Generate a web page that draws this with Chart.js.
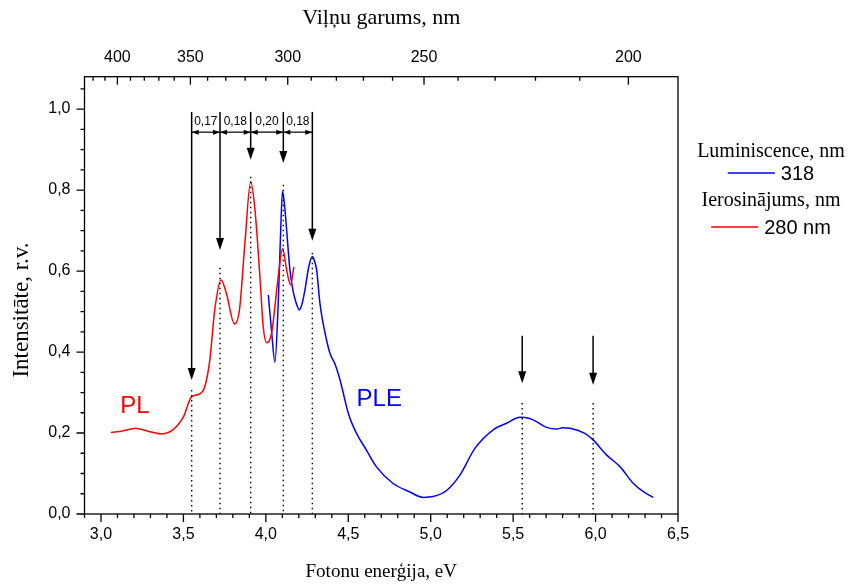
<!DOCTYPE html>
<html>
<head>
<meta charset="utf-8">
<script src="https://cdn.jsdelivr.net/npm/chart.js@4.4.0/dist/chart.umd.min.js"></script>
<style>
  html, body { margin: 0; padding: 0; background: #fff; }
</style>
</head>
<body>
<canvas id="spectrum" width="852" height="586"></canvas>
<script>
// PL spektrs (ierosinājums 280 nm)
const plEnergy = [3.06, 3.13, 3.21, 3.28, 3.36, 3.43, 3.50, 3.55, 3.59, 3.63, 3.66, 3.69, 3.728, 3.76, 3.81, 3.84, 3.873, 3.908, 3.934, 3.964, 3.984, 4.005, 4.035, 4.075, 4.102, 4.126, 4.150, 4.17];
const plIntensity = [0.201, 0.205, 0.212, 0.205, 0.198, 0.206, 0.240, 0.290, 0.295, 0.315, 0.380, 0.504, 0.578, 0.546, 0.469, 0.504, 0.669, 0.821, 0.751, 0.586, 0.463, 0.423, 0.447, 0.586, 0.656, 0.603, 0.566, 0.610];

// PLE spektrs (luminiscence 318 nm)
const pleEnergy = [4.015, 4.035, 4.055, 4.075, 4.09, 4.101, 4.114, 4.126, 4.146, 4.166, 4.185, 4.203, 4.22, 4.237, 4.26, 4.282, 4.295, 4.308, 4.328, 4.359, 4.389, 4.42, 4.44, 4.46, 4.50, 4.55, 4.61, 4.67, 4.77, 4.87, 4.955, 5.015, 5.096, 5.177, 5.268, 5.379, 5.46, 5.541, 5.60, 5.642, 5.703, 5.764, 5.80, 5.845, 5.935, 5.985, 6.066, 6.148, 6.228, 6.29, 6.35];
const pleIntensity = [0.541, 0.450, 0.375, 0.520, 0.700, 0.797, 0.760, 0.702, 0.603, 0.549, 0.520, 0.504, 0.520, 0.553, 0.610, 0.636, 0.625, 0.603, 0.521, 0.447, 0.397, 0.370, 0.345, 0.315, 0.249, 0.199, 0.158, 0.117, 0.076, 0.055, 0.041, 0.043, 0.058, 0.096, 0.162, 0.208, 0.224, 0.239, 0.236, 0.228, 0.214, 0.210, 0.213, 0.212, 0.199, 0.183, 0.146, 0.117, 0.076, 0.055, 0.041];

// asis
const energyTicks = [3.0, 3.5, 4.0, 4.5, 5.0, 5.5, 6.0, 6.5];
const intensityTicks = [0, 0.2, 0.4, 0.6, 0.8, 1.0];
const wavelengthTicks = [400, 350, 300, 250, 200];
const HC = 1239.84; // eV*nm

// maksimumi, bultas
const peakEnergy = [3.55, 3.722, 3.908, 4.106, 4.282, 5.555, 5.985];
const peakLevel = [0.306, 0.608, 0.833, 0.813, 0.645, 0.274, 0.274];
const arrowFrom = [0.993, 0.993, 0.993, 0.993, 0.993, 0.44, 0.44];
const arrowTo = [0.331, 0.652, 0.875, 0.867, 0.675, 0.323, 0.319];
const gapLabels = ["0,17", "0,18", "0,20", "0,18"];
const gapLevel = 0.943;
const gapLabelLevel = 0.969;

// uzraksti
const curveNames = ["PL", "PLE"];
const curveNameX = [3.206, 4.688];
const curveNameY = [0.265, 0.282];
const legendTitles = ["Luminiscence, nm", "Ierosinājums, nm"];
const yTitle = "Intensitāte, r.v.";

const SANS = 'Arial, "Liberation Sans", sans-serif';
const SERIF = '"Times New Roman", "Liberation Serif", serif';

function arrowHead(ctx, x, y, dx, dy, len, half) {
    // smaile punktā (x,y), virzienā (dx,dy)
    ctx.beginPath();
    ctx.moveTo(x, y);
    ctx.lineTo(x - dx * len - dy * half, y - dy * len - dx * half);
    ctx.lineTo(x - dx * len + dy * half, y - dy * len + dx * half);
    ctx.closePath();
    ctx.fill();
}

const decor = {
    id: 'decor',
    afterDraw(chart) {
        const ctx = chart.ctx;
        const xs = chart.scales.x, xt = chart.scales.xTop, ys = chart.scales.y;
        const a = chart.chartArea;
        ctx.save();
        ctx.strokeStyle = '#000';
        ctx.fillStyle = '#000';
        ctx.lineWidth = 1.3;

        // rāmis
        ctx.strokeRect(a.left, a.top, a.right - a.left, a.bottom - a.top);

        // apakšējās ass iedaļas (uz āru)
        ctx.beginPath();
        for (let i = 29; i <= 65; i++) {
            const px = xs.getPixelForValue(i / 10);
            ctx.moveTo(px, a.bottom);
            ctx.lineTo(px, a.bottom + (i % 5 === 0 ? 8 : 4));
        }
        // kreisās ass iedaļas (uz āru)
        for (let i = 0; i <= 21; i++) {
            const py = ys.getPixelForValue(i / 20);
            ctx.moveTo(a.left, py);
            ctx.lineTo(a.left - (i % 4 === 0 ? 8 : 4), py);
        }
        // augšējās ass iedaļas (uz iekšu)
        for (let nm = 200; nm <= 420; nm += 10) {
            const px = xt.getPixelForValue(HC / nm);
            ctx.moveTo(px, a.top);
            ctx.lineTo(px, a.top + (nm % 50 === 0 ? 8 : 4));
        }
        ctx.stroke();

        // Y ass nosaukums
        ctx.save();
        ctx.translate(22, 310);
        ctx.rotate(-Math.PI / 2);
        ctx.font = '23px ' + SERIF;
        ctx.textAlign = 'center';
        ctx.textBaseline = 'middle';
        ctx.fillText(yTitle, 0, 0);
        ctx.restore();

        // punktētās līnijas
        ctx.setLineDash([1.5, 3.5]);
        ctx.lineWidth = 1.4;
        ctx.beginPath();
        peakEnergy.forEach((e, i) => {
            const px = xs.getPixelForValue(e);
            ctx.moveTo(px, ys.getPixelForValue(peakLevel[i]));
            ctx.lineTo(px, a.bottom);
        });
        ctx.stroke();
        ctx.setLineDash([]);

        // vertikālās bultas
        ctx.lineWidth = 1.5;
        peakEnergy.forEach((e, i) => {
            const px = xs.getPixelForValue(e);
            const y0 = ys.getPixelForValue(arrowFrom[i]);
            const y1 = ys.getPixelForValue(arrowTo[i]);
            ctx.beginPath();
            ctx.moveTo(px, y0);
            ctx.lineTo(px, y1 - 10);
            ctx.stroke();
            arrowHead(ctx, px, y1, 0, 1, 12, 4);
        });

        // attālumi starp maksimumiem
        const gy = ys.getPixelForValue(gapLevel);
        const ly = ys.getPixelForValue(gapLabelLevel);
        ctx.lineWidth = 1.2;
        ctx.font = '12px ' + SANS;
        ctx.textAlign = 'center';
        ctx.textBaseline = 'middle';
        gapLabels.forEach((t, i) => {
            const xa = xs.getPixelForValue(peakEnergy[i]);
            const xb = xs.getPixelForValue(peakEnergy[i + 1]);
            ctx.beginPath();
            ctx.moveTo(xa, gy);
            ctx.lineTo(xb, gy);
            ctx.stroke();
            arrowHead(ctx, xa, gy, -1, 0, 7, 2.5);
            arrowHead(ctx, xb, gy, 1, 0, 7, 2.5);
            ctx.fillText(t, (xa + xb) / 2, ly);
        });

        // PL / PLE
        ctx.font = '24px ' + SANS;
        chart.data.datasets.forEach((ds, i) => {
            ctx.fillStyle = ds.borderColor;
            ctx.fillText(curveNames[i], xs.getPixelForValue(curveNameX[i]), ys.getPixelForValue(curveNameY[i]));
        });

        // leģenda
        const cx = a.right + 93;
        const titleY = [152, 201];
        const itemY = [173, 227];
        [1, 0].forEach((di, k) => {
            const ds = chart.data.datasets[di];
            ctx.fillStyle = '#000';
            ctx.font = '20px ' + SERIF;
            ctx.textAlign = 'center';
            ctx.fillText(legendTitles[k], cx, titleY[k]);
            ctx.font = '20px ' + SANS;
            const tw = ctx.measureText(ds.label).width;
            const lineLen = 47, gap = 6;
            const x0 = cx - (lineLen + gap + tw) / 2;
            ctx.strokeStyle = ds.borderColor;
            ctx.lineWidth = 1.3;
            ctx.beginPath();
            ctx.moveTo(x0, itemY[k]);
            ctx.lineTo(x0 + lineLen, itemY[k]);
            ctx.stroke();
            ctx.textAlign = 'left';
            ctx.fillText(ds.label, x0 + lineLen + gap, itemY[k] + 1);
        });
        ctx.restore();
    }
};

const toPoints = (xs, ys) => xs.map((x, i) => ({ x: x, y: ys[i] }));
const tickFont = { family: SANS, size: 16 };

new Chart(document.getElementById('spectrum').getContext('2d'), {
    type: 'line',
    data: {
        datasets: [{
            label: '280 nm',
            data: toPoints(plEnergy, plIntensity),
            borderColor: '#ff0000',
            borderWidth: 1.5,
            pointRadius: 0,
            cubicInterpolationMode: 'monotone'
        }, {
            label: '318',
            data: toPoints(pleEnergy, pleIntensity),
            borderColor: '#0000ff',
            borderWidth: 1.5,
            pointRadius: 0,
            cubicInterpolationMode: 'monotone'
        }]
    },
    options: {
        responsive: false,
        animation: false,
        devicePixelRatio: 1,
        layout: { padding: { left: 0, right: 174, top: 0, bottom: 0 } },
        plugins: { legend: { display: false }, tooltip: { enabled: false } },
        scales: {
            x: {
                type: 'linear', position: 'bottom', min: 2.9, max: 6.5,
                afterBuildTicks: s => { s.ticks = energyTicks.map(v => ({ value: v })); },
                afterFit: s => { s.height = 72; },
                grid: { display: false, drawTicks: false },
                border: { display: false },
                ticks: {
                    autoSkip: false, maxRotation: 0, padding: 11, color: '#000', font: tickFont,
                    callback: v => v.toFixed(1).replace('.', ',')
                },
                title: { display: true, text: 'Fotonu enerģija, eV', color: '#000', font: { family: SERIF, size: 19 }, padding: { top: 0, bottom: 3 } }
            },
            xTop: {
                type: 'linear', axis: 'x', position: 'top', min: 2.9, max: 6.5,
                afterBuildTicks: s => { s.ticks = wavelengthTicks.map(nm => ({ value: HC / nm })); },
                afterFit: s => { s.height = 76.7; },
                grid: { display: false, drawTicks: false },
                border: { display: false },
                ticks: {
                    autoSkip: false, maxRotation: 0, padding: 10, color: '#000', font: tickFont,
                    callback: v => String(Math.round(HC / v))
                },
                title: { display: true, text: 'Viļņu garums, nm', color: '#000', font: { family: SERIF, size: 22 }, padding: { top: 5, bottom: 0 } }
            },
            y: {
                type: 'linear', position: 'left', min: 0, max: 1.08,
                afterBuildTicks: s => { s.ticks = intensityTicks.map(v => ({ value: v })); },
                afterFit: s => { s.width = 84.5; },
                grid: { display: false, drawTicks: false },
                border: { display: false },
                ticks: {
                    padding: 14, color: '#000', font: tickFont,
                    callback: v => v.toFixed(1).replace('.', ',')
                },
                title: { display: false }
            }
        }
    },
    plugins: [decor]
});
</script>
</body>
</html>
